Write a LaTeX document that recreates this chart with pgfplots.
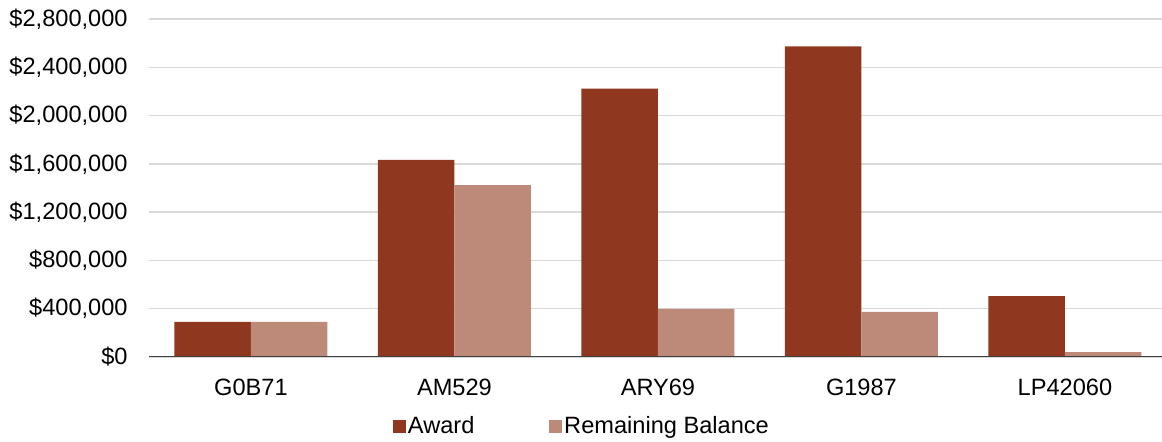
\documentclass[border=0pt]{standalone}
\usepackage{fontspec}
\setmainfont{Liberation Sans}
\usepackage{pgfplots}
\pgfplotsset{compat=1.18}
\definecolor{award}{RGB}{143,56,31}
\definecolor{remain}{RGB}{189,137,121}
\definecolor{gridc}{RGB}{217,217,217}
\definecolor{axisc}{RGB}{64,64,64}
\begin{document}
\fontsize{11.8}{14}\selectfont
\begin{tikzpicture}
\useasboundingbox (-74.6pt,-42.5pt) rectangle (506.4pt,178.5pt);
\begin{axis}[
  at={(0,0)}, anchor=south west,
  scale only axis, width=508.75pt, height=169pt,
  font=\fontsize{11.8}{14}\selectfont,
  ybar=0pt, bar width=38.25pt,
  xmin=-0.5, xmax=4.5, ymin=0, ymax=2800000,
  xtick={0,...,4}, xticklabels={G0B71,AM529,ARY69,G1987,LP42060},
  ytick={0,400000,800000,1200000,1600000,2000000,2400000,2800000},
  yticklabels={{\$0},{\$400,000},{\$800,000},{\$1,200,000},{\$1,600,000},{\$2,000,000},{\$2,400,000},{\$2,800,000}},
  scaled y ticks=false,
  major tick length=0pt,
  axis x line*=bottom, axis y line*=left,
  x axis line style={draw=none}, y axis line style={draw=none},
  ymajorgrids, grid style={gridc, line width=0.75pt},
  xticklabel style={anchor=north, inner sep=0pt, yshift=-10.75pt},
  yticklabel style={anchor=east, inner sep=0pt, xshift=-10.6pt},
  legend image code/.code={\fill[#1] (0pt,-3.25pt) rectangle (6.5pt,3.25pt);},
  legend style={at={(axis description cs:0.4253,-0.207)}, anchor=center, draw=none, fill=none,
    legend columns=2, /tikz/every even column/.append style={column sep=36pt},
    nodes={inner sep=1.2pt}, font=\fontsize{11.8}{14}\selectfont},
]
\addplot[fill=award, draw=none] coordinates {(0,290000) (1,1633000) (2,2224000) (3,2574000) (4,505000)};
\addplot[fill=remain, draw=none] coordinates {(0,290000) (1,1424000) (2,398000) (3,373000) (4,41000)};
\draw[axisc, line width=1.25pt] (axis cs:-0.5,0) -- (axis cs:4.5,0);
\legend{Award, Remaining Balance}
\end{axis}
\end{tikzpicture}
\end{document}
